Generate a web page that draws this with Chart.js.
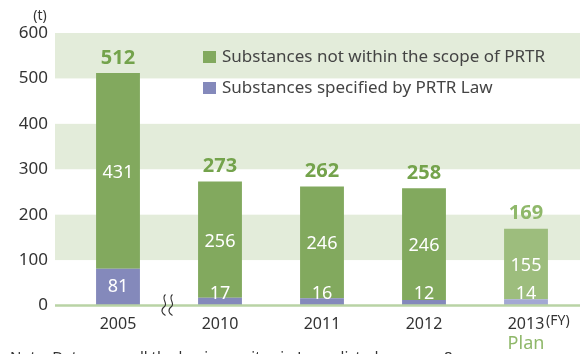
<!DOCTYPE html>
<html><head><meta charset="utf-8">
<script src="https://cdn.jsdelivr.net/npm/chart.js@4/dist/chart.umd.min.js"></script>
<style>html,body{margin:0;padding:0;background:#fff;}#wrap{width:580px;height:354px;position:relative;}</style>
</head><body><div id="wrap"><canvas id="c" width="580" height="354"></canvas></div>
<script>
const categories = ['2005', '2010', '2011', '2012', '2013'];
const prtrValues = [81, 17, 16, 12, 14];
const nonPrtrValues = [431, 256, 246, 246, 155];
const totals = [512, 273, 262, 258, 169];
const yTicks = [0, 100, 200, 300, 400, 500, 600];
const seriesNames = ['Substances specified by PRTR Law', 'Substances not within the scope of PRTR'];

const FONT = '"Noto Sans", "Open Sans", sans-serif';
const GREEN = '#82a95e', GREEN_L = '#9dbd7d';
const BLUE = '#8489bb', BLUE_L = '#a3a8d3';

const bgPlugin = {
  id: 'bg',
  beforeDraw(chart) {
    const {ctx, scales: {y}} = chart;
    ctx.save();
    ctx.fillStyle = '#e3ecda';
    for (let i = 1; i < yTicks.length; i += 2) {
      const yt = y.getPixelForValue(yTicks[i + 1 < yTicks.length ? i + 1 : i]);
      const yb = y.getPixelForValue(yTicks[i]);
      ctx.fillRect(55, yt, 580 - 55, yb - yt);
    }
    ctx.restore();
  },
  afterDatasetsDraw(chart) {
    const {ctx, scales: {x, y}} = chart;
    ctx.save();
    const y0 = y.getPixelForValue(0);
    ctx.strokeStyle = '#b9d3a5';
    ctx.lineWidth = 2.5;
    ctx.beginPath(); ctx.moveTo(55, y0); ctx.lineTo(580, y0); ctx.stroke();
    // break mark
    const bx = (x.getPixelForValue(0) + x.getPixelForValue(1)) / 2 - 1;
    ctx.strokeStyle = '#333';
    ctx.lineWidth = 1.1;
    [-3.5, 3.5].forEach(off => {
      const cx = bx + off;
      ctx.beginPath();
      ctx.moveTo(cx + 1, y0 - 11);
      ctx.bezierCurveTo(cx - 4, y0 - 7, cx + 4, y0 - 2, cx, y0 + 1);
      ctx.bezierCurveTo(cx - 4, y0 + 4, cx - 3, y0 + 8, cx + 1, y0 + 10);
      ctx.stroke();
    });
    // value labels
    ctx.textAlign = 'center';
    ctx.textBaseline = 'middle';
    const m0 = chart.getDatasetMeta(0), m1 = chart.getDatasetMeta(1);
    categories.forEach((c, i) => {
      const b0 = m0.data[i], b1 = m1.data[i];
      ctx.fillStyle = '#fff';
      ctx.font = '18px ' + FONT;
      let cy0 = (b0.y + b0.base) / 2;
      cy0 = Math.min(cy0, b0.base - 12);
      ctx.fillText(String(prtrValues[i]), b0.x, cy0);
      ctx.fillText(String(nonPrtrValues[i]), b1.x, (b1.y + b1.base) / 2 + 2);
      ctx.fillStyle = i === categories.length - 1 ? '#8fb86a' : '#74a34c';
      ctx.font = 'bold 20px ' + FONT;
      ctx.fillText(String(totals[i]), b1.x, b1.y - 15);
    });
    // axis extras
    ctx.fillStyle = '#333';
    ctx.font = '14px ' + FONT;
    ctx.textAlign = 'center';
    ctx.fillText('(t)', 40, 16);
    ctx.textAlign = 'left';
    ctx.fillText('(FY)', 546, 321);
    ctx.fillStyle = '#8fb86a';
    ctx.font = '18px ' + FONT;
    ctx.textAlign = 'center';
    ctx.fillText('Plan', x.getPixelForValue(4), 344);
    ctx.fillStyle = '#333';
    ctx.font = '15px ' + FONT;
    ctx.textAlign = 'left';
    ctx.textBaseline = 'top';
    ctx.fillText('Note: Data cover all the business sites in Japan listed on page 8.', 10, 350);
    // legend
    const legend = [[GREEN, seriesNames[1], 57], [BLUE, seriesNames[0], 88]];
    ctx.textBaseline = 'middle';
    ctx.font = '17px ' + FONT;
    legend.forEach(([col, txt, ly]) => {
      ctx.fillStyle = col;
      ctx.fillRect(203, ly - 6, 13, 12);
      ctx.fillStyle = '#444';
      ctx.fillText(txt, 222, ly);
    });
    ctx.restore();
  }
};

new Chart(document.getElementById('c'), {
  type: 'bar',
  data: {
    labels: categories,
    datasets: [
      { label: seriesNames[0], data: prtrValues,
        backgroundColor: prtrValues.map((v, i) => i === 4 ? BLUE_L : BLUE) },
      { label: seriesNames[1], data: nonPrtrValues,
        backgroundColor: nonPrtrValues.map((v, i) => i === 4 ? GREEN_L : GREEN) }
    ]
  },
  options: {
    responsive: false,
    animation: false,
    events: [],
    layout: { padding: { top: 33, right: 3, left: 0, bottom: 0 } },
    datasets: { bar: { barPercentage: 0.86, categoryPercentage: 0.5 } },
    plugins: { legend: { display: false }, tooltip: { enabled: false } },
    scales: {
      x: {
        stacked: true,
        grid: { display: false, drawTicks: false },
        border: { display: false },
        ticks: { color: '#333', font: { family: FONT, size: 16 }, padding: 9 },
        afterFit(s) { s.height = 48.5; }
      },
      y: {
        stacked: true,
        min: 0, max: 600,
        afterBuildTicks(s) { s.ticks = yTicks.map(v => ({ value: v })); },
        grid: { display: false, drawTicks: false },
        border: { display: false },
        ticks: { color: '#333', font: { family: FONT, size: 17 }, padding: 19 },
        afterFit(s) { s.width = 67; }
      }
    }
  },
  plugins: [bgPlugin]
});
</script></body></html>
